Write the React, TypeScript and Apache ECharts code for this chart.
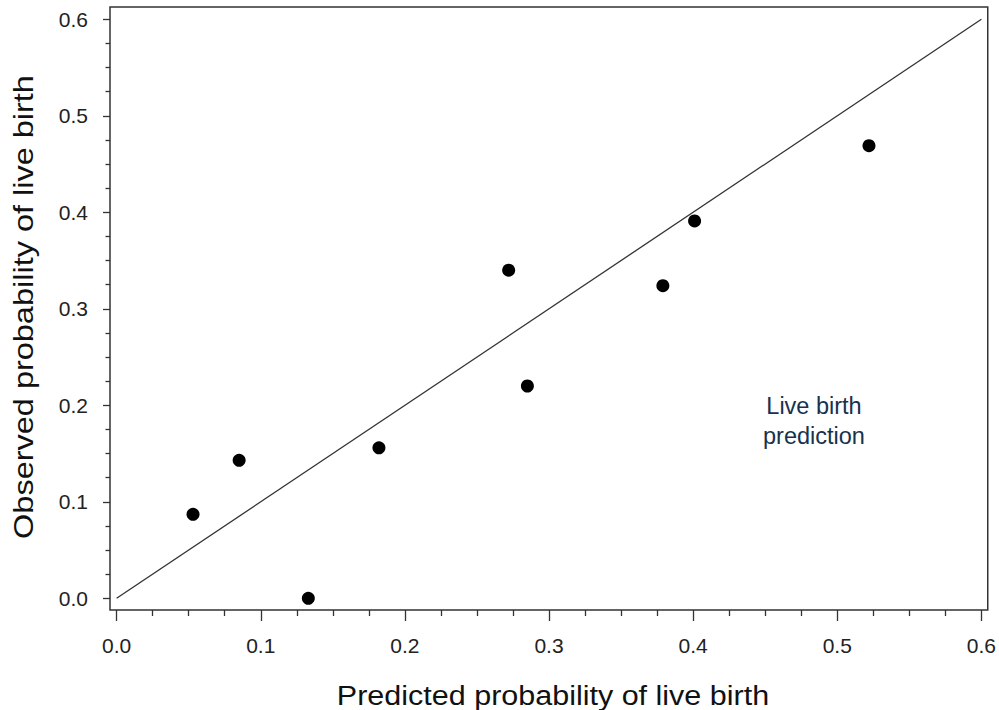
import React, { useEffect, useRef } from "react";
import * as echarts from "echarts";

const predicted = [0.053, 0.085, 0.133, 0.182, 0.272, 0.285, 0.379, 0.401, 0.522];
const observed = [0.087, 0.143, 0.0, 0.156, 0.340, 0.220, 0.324, 0.391, 0.469];
const refLine = [[0, 0], [0.6, 0.6]];
const majorTicks = [0, 0.1, 0.2, 0.3, 0.4, 0.5, 0.6];
const minorPerMajor = 4;
const xRange = [-0.0046, 0.6044];
const yRange = [-0.0121, 0.6127];
const xTitle = "Predicted probability of live birth";
const yTitle = "Observed probability of live birth";
const annotation = "Live birth\nprediction";

const FONT = "'Liberation Sans', Arial, Helvetica, sans-serif";
const INK = "#333";

export default function App() {
  const ref = useRef<HTMLDivElement>(null);
  useEffect(() => {
    if (!ref.current) return;
    const chart = echarts.init(ref.current, undefined, { renderer: "svg" });
    const points = predicted.map((p, i) => [p, observed[i]]);
    const minorTicks: number[] = [];
    for (let i = 0; i < majorTicks.length - 1; i++) {
      const a = majorTicks[i];
      const b = majorTicks[i + 1];
      for (let k = 1; k < minorPerMajor; k++) minorTicks.push(a + ((b - a) * k) / minorPerMajor);
    }
    const tickLabel = (v: number) => v.toFixed(1);
    const lbl = { fontSize: 21, color: "#222", fontFamily: FONT };
    const baseAxis = (range: number[]) => ({
      type: "value",
      min: range[0],
      max: range[1],
      splitLine: { show: false },
      axisLine: { show: false, onZero: false },
    });
    chart.setOption({
      animation: false,
      backgroundColor: "#fff",
      grid: {
        left: 110,
        right: 10,
        top: 7,
        bottom: 100,
        containLabel: false,
        show: true,
        borderColor: INK,
        borderWidth: 1.5,
        backgroundColor: "transparent",
      },
      xAxis: [
        {
          ...baseAxis(xRange),
          position: "bottom",
          axisTick: { show: true, length: 11, customValues: majorTicks, lineStyle: { color: INK, width: 1.3 } },
          axisLabel: { ...lbl, formatter: tickLabel, margin: 25, customValues: majorTicks },
        },
        {
          ...baseAxis(xRange),
          position: "bottom",
          axisTick: { show: true, length: 6, customValues: minorTicks, lineStyle: { color: INK, width: 1.3 } },
          axisLabel: { show: false },
        },
      ],
      yAxis: [
        {
          ...baseAxis(yRange),
          position: "left",
          axisTick: { show: true, length: 7, customValues: majorTicks, lineStyle: { color: INK, width: 1.3 } },
          axisLabel: { ...lbl, formatter: tickLabel, margin: 22, customValues: majorTicks },
        },
        {
          ...baseAxis(yRange),
          position: "left",
          axisTick: { show: true, length: 4.5, customValues: minorTicks, lineStyle: { color: INK, width: 1.3 } },
          axisLabel: { show: false },
        },
      ],
      graphic: [
        {
          type: "text",
          x: 553,
          y: 695,
          scaleX: 1.09,
          style: {
            text: xTitle,
            fill: "#111",
            font: `28px ${FONT}`,
            textAlign: "center",
            textVerticalAlign: "middle",
          },
        },
        {
          type: "text",
          x: 23,
          y: 307,
          rotation: Math.PI / 2,
          scaleX: 1.16,
          style: {
            text: yTitle,
            fill: "#111",
            font: `28px ${FONT}`,
            textAlign: "center",
            textVerticalAlign: "middle",
          },
        },
        {
          type: "text",
          x: 814,
          y: 421,
          style: {
            text: annotation,
            fill: "#17324d",
            font: `23.5px ${FONT}`,
            textAlign: "center",
            textVerticalAlign: "middle",
            lineHeight: 30,
          },
        },
      ],
      series: [
        {
          type: "line",
          data: refLine,
          symbol: "none",
          lineStyle: { color: INK, width: 1.3 },
          silent: true,
        },
        {
          type: "scatter",
          data: points,
          symbol: "circle",
          symbolSize: 13,
          itemStyle: { color: "#000", opacity: 1 },
        },
      ],
    });
    return () => chart.dispose();
  }, []);
  return <div ref={ref} style={{ width: 999, height: 710, position: "absolute", left: 0, top: 0 }} />;
}
